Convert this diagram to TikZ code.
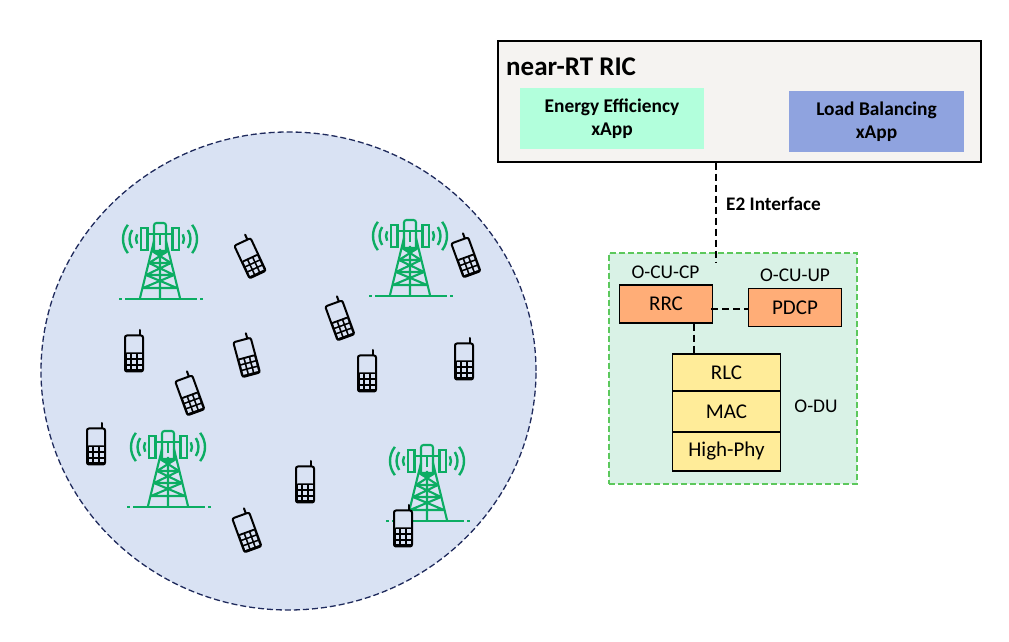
\documentclass[tikz,border=0pt]{standalone}
\usepackage{fontspec}
\setmainfont{Carlito}
\usetikzlibrary{positioning}
\definecolor{cellblue}{HTML}{D9E2F3}
\definecolor{towergreen}{HTML}{0CAD63}
\definecolor{oranbox}{HTML}{FFAD77}
\definecolor{dubox}{HTML}{FFEC99}
\definecolor{ricgray}{HTML}{F5F3F1}
\definecolor{energygreen}{HTML}{B2FFDC}
\definecolor{loadblue}{HTML}{8FA3DF}
\definecolor{orangreen}{HTML}{D9F2E6}
\definecolor{dashgreen}{HTML}{5CC85C}
\definecolor{circlenavy}{HTML}{1F2A5C}
\tikzset{
    layerbox/.style={draw,line width=1.5pt,fill=dubox,minimum width=108pt,inner sep=0pt,outer sep=0pt,font=\fontsize{21}{24}\selectfont},
    cubox/.style={draw,line width=1.5pt,fill=oranbox,minimum width=93pt,minimum height=38pt,inner sep=0pt,font=\fontsize{21}{24}\selectfont},
    appbox/.style={align=center,inner sep=0pt,font=\fontsize{19.4}{23}\selectfont\bfseries},
    smalllabel/.style={inner sep=0pt,font=\fontsize{19.4}{22}\selectfont},
    linkdash/.style={line width=1.5pt,dash pattern=on 7pt off 4pt},
    tower/.pic={
        \begin{scope}[towergreen,line width=2.1pt]
            \draw (-41,0) -- (-38,0) (-35,0) -- (37,0) (40,0) -- (43,0);
            \draw (-20,1) -- (-6,58) (20,1) -- (6,58) (0,0) -- (0,50);
            \draw (-17,11) -- (17,11) (-17,11) -- (14,24) (17,11) -- (-14,24);
            \draw (-14,24) -- (14,24) (-14,24) -- (11,36) (14,24) -- (-11,36);
            \draw (-11,36) -- (11,36) (-11,36) -- (8,48) (11,36) -- (-8,48) (-8,48) -- (8,48);
            \draw (-19,49) rectangle (-12.5,71) (12.5,49) rectangle (19,71);
            \draw (-12,65) -- (12,65);
            \draw[rounded corners=2.5pt] (-6,46) -- (-6,76) -- (6,76) -- (6,46) -- cycle;
            \draw (0,54) -- (0,66);
            \foreach \r/\t in {10/28,16.5/33,23/38} {
                \draw[line width=2.4pt] (-14,60)+(180-\t:\r) arc (180-\t:180+\t:\r);
                \draw[line width=2.4pt] (14,60)+(-\t:\r) arc (-\t:\t:\r);
            }
        \end{scope}
    },
    phone/.pic={
        \draw[line width=2pt,line cap=round] (5.5,15.5) -- (5.5,21);
        \draw[line width=2pt,rounded corners=2pt,fill=cellblue] (-9,-20.5) rectangle (9,15.5);
        \fill[rounded corners=1.5pt] (-9,-20.5) rectangle (9,-1.5);
        \foreach \i in {-1,0,1} {
            \foreach \j in {0,1,2} {
                \fill[cellblue] (5.6*\i-1.9,-18.5+5.6*\j) rectangle ++(3.8,3.8);
            }
        }
    }
}
\begin{document}
\begin{tikzpicture}[x=1pt,y=1pt]
    \useasboundingbox (0,0) rectangle (1009,642);

    \draw[fill=cellblue,draw=circlenavy,line width=1.3pt,dash pattern=on 6pt off 3pt] (288.5,271) ellipse (247.5 and 239);

    \pic (towera) at (160,343) {tower};
    \pic (towerb) at (410,346) {tower};
    \pic (towerc) at (168,135) {tower};
    \pic (towerd) at (427,121) {tower};

    \foreach \x/\y/\a [count=\n] in {249/386/25,465/387/20,339/324/20,134/291/0,246/287/15,367/271/0,464/283/0,189/249/20,96/198/0,305/160/0,246/112/20,403/116/0} {
        \pic[rotate=\a] (phone\n) at (\x,\y) {phone};
    }

    \node[draw,line width=1.5pt,fill=ricgray,minimum width=483pt,minimum height=121pt,inner sep=0pt] (ric) at (739.5,540.5) {};
    \node[inner sep=0pt,anchor=west,font=\fontsize{27}{29}\selectfont\bfseries] (rictitle) at (506,575) {near-RT RIC};
    \node[appbox,fill=energygreen,minimum width=184pt,minimum height=61pt] (energy) at (612,523) {Energy Efficiency\\xApp};
    \node[appbox,fill=loadblue,minimum width=175pt,minimum height=61pt] (load) at (876.5,520.5) {Load Balancing\\xApp};

    \node[draw=dashgreen,fill=orangreen,line width=1.4pt,dash pattern=on 6pt off 3pt,minimum width=248pt,minimum height=231pt,inner sep=0pt] (oran) at (733,273.5) {};

    \coordinate (e2end) at (716,380);
    \draw[linkdash] (e2end |- ric.south) -- (e2end);
    \node[inner sep=0pt,anchor=west,font=\fontsize{19.2}{21}\selectfont\bfseries] (e2label) at (726,438) {E2 Interface};

    \node[cubox] (rrc) at (666,338) {\raisebox{-1.5pt}{RRC}};
    \node[cubox] (pdcp) at (795,334.5) {PDCP};
    \node[smalllabel] (cucp) at (665.5,370) {O-CU-CP};
    \node[smalllabel] (cuup) at (795,367) {O-CU-UP};

    \node[layerbox,minimum height=37pt] (rlc) at (726.5,269.5) {RLC};
    \node[layerbox,minimum height=41pt,below=0pt of rlc] (mac) {MAC};
    \node[layerbox,minimum height=39pt,below=0pt of mac] (phy) {High-Phy};
    \node[smalllabel] (du) at (816,236) {O-DU};

    \coordinate (rrcdash) at (711,333);
    \draw[linkdash] (rrcdash) -- (pdcp.west |- rrcdash);
    \coordinate (dudash) at (694,288);
    \draw[linkdash] (rrc.south -| dudash) -- (dudash);
\end{tikzpicture}
\end{document}
